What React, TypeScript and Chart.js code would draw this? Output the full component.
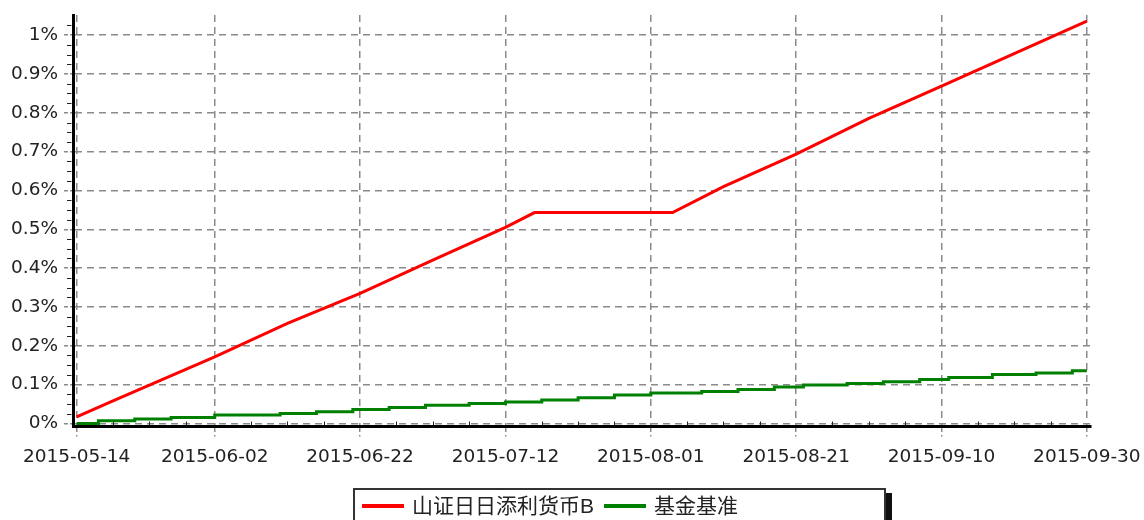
import { useEffect, useRef } from 'react';
import { Chart, registerables } from 'chart.js';

Chart.register(...registerables);

const startDate = '2015-05-14';
const xTickLabels = ['2015-05-14', '2015-06-02', '2015-06-22', '2015-07-12', '2015-08-01', '2015-08-21', '2015-09-10', '2015-09-30'];
const yTickValues = [0, 0.1, 0.2, 0.3, 0.4, 0.5, 0.6, 0.7, 0.8, 0.9, 1];
const yTickLabels = ['0%', '0.1%', '0.2%', '0.3%', '0.4%', '0.5%', '0.6%', '0.7%', '0.8%', '0.9%', '1%'];

const seriesNames = ['山证日日添利货币B', '基金基准'];
const seriesColors = ['#ff0000', '#008000'];

const fundDates = ['2015-05-14', '2015-05-19', '2015-06-02', '2015-06-12', '2015-06-22', '2015-07-02', '2015-07-12', '2015-07-16', '2015-08-04', '2015-08-11', '2015-08-21', '2015-08-31', '2015-09-10', '2015-09-30'];
const fundValues = [0.017, 0.058, 0.1715, 0.2575, 0.335, 0.4205, 0.505, 0.543, 0.543, 0.61, 0.6935, 0.7855, 0.8687, 1.036];

const benchDates = ['2015-05-14', '2015-05-17', '2015-05-22', '2015-05-27', '2015-06-02', '2015-06-11', '2015-06-16', '2015-06-21', '2015-06-26', '2015-07-01', '2015-07-07', '2015-07-12', '2015-07-17', '2015-07-22', '2015-07-27', '2015-08-01', '2015-08-08', '2015-08-13', '2015-08-18', '2015-08-22', '2015-08-28', '2015-09-02', '2015-09-07', '2015-09-11', '2015-09-17', '2015-09-23', '2015-09-28', '2015-09-30'];
const benchValues = [0, 0.0067, 0.011, 0.0155, 0.0214, 0.0258, 0.03, 0.036, 0.041, 0.047, 0.0515, 0.055, 0.06, 0.066, 0.073, 0.078, 0.0824, 0.0876, 0.0935, 0.0986, 0.103, 0.107, 0.1133, 0.1185, 0.126, 0.13, 0.1355, 0.1355];

const dayIndex = (s: string) => Math.round((Date.parse(s) - Date.parse(startDate)) / 86400000);
const xTickDays = xTickLabels.map(dayIndex);
const xMinorDays: number[] = [];
xTickDays.slice(0, -1).forEach((d) => [5, 10, 15].forEach((o) => xMinorDays.push(d + o)));
const yMinorValues: number[] = [];
yTickValues.forEach((v) => [0.025, 0.05, 0.075].forEach((o) => { if (v + o < 1.05) yMinorValues.push(+(v + o).toFixed(3)); }));

const GRID = '#8a8a8a';
const TICK_FONT = { family: '"DejaVu Sans", Verdana, sans-serif', size: 18.5 };

const minorTicksPlugin = {
  id: 'minorTicks',
  afterDraw(chart: any) {
    const { ctx, chartArea, scales } = chart;
    ctx.save();
    ctx.strokeStyle = '#222';
    ctx.lineWidth = 1;
    ctx.beginPath();
    yMinorValues.forEach((v) => {
      const py = Math.round(scales.y.getPixelForValue(v)) + 0.5;
      ctx.moveTo(chartArea.left - 6, py);
      ctx.lineTo(chartArea.left - 1.5, py);
    });
    xMinorDays.forEach((d) => {
      const px = Math.round(scales.x.getPixelForValue(d)) + 0.5;
      ctx.moveTo(px, chartArea.bottom - 1.5);
      ctx.lineTo(px, chartArea.bottom - 5);
    });
    ctx.stroke();
    ctx.restore();
  },
};

export default function App() {
  const ref = useRef<HTMLCanvasElement>(null);
  useEffect(() => {
    const canvas = ref.current!;
    const chart = new Chart(canvas, {
      type: 'line',
      data: {
        datasets: [
          {
            label: seriesNames[0],
            data: fundDates.map((d, i) => ({ x: dayIndex(d), y: fundValues[i] })),
            borderColor: seriesColors[0],
            backgroundColor: seriesColors[0],
            borderWidth: 3,
            pointRadius: 0,
            tension: 0,
            fill: false,
          },
          {
            label: seriesNames[1],
            data: benchDates.map((d, i) => ({ x: dayIndex(d), y: benchValues[i] })),
            borderColor: seriesColors[1],
            backgroundColor: seriesColors[1],
            borderWidth: 3,
            pointRadius: 0,
            stepped: 'before',
            fill: false,
          },
        ],
      },
      options: {
        responsive: false,
        animation: false,
        devicePixelRatio: 1,
        layout: { padding: { top: 15, right: 53.5, bottom: 0, left: 0 } },
        plugins: { legend: { display: false }, tooltip: { enabled: false } },
        scales: {
          x: {
            type: 'linear',
            min: xTickDays[0] - 0.5,
            max: xTickDays[xTickDays.length - 1] + 0.5,
            afterBuildTicks: (s: any) => { s.ticks = xTickDays.map((v) => ({ value: v })); },
            afterFit: (s: any) => { s.height = 93.5; s.paddingLeft = 0; s.paddingRight = 0; },
            grid: { color: GRID, lineWidth: 1.5, tickLength: 10, tickColor: GRID, tickBorderDash: [4, 3] },
            border: { display: true, color: '#000', width: 3, dash: [7, 5] },
            ticks: {
              autoSkip: false,
              maxRotation: 0,
              padding: 10,
              color: '#222',
              font: TICK_FONT,
              callback: (_v: any, i: number) => xTickLabels[i],
            },
          },
          y: {
            type: 'linear',
            min: -0.008,
            max: 1.052,
            afterBuildTicks: (s: any) => { s.ticks = yTickValues.map((v) => ({ value: v })); },
            afterFit: (s: any) => { s.width = 73; s.paddingTop = 0; s.paddingBottom = 0; },
            grid: { color: GRID, lineWidth: 1.5, tickLength: 9, tickColor: GRID, tickBorderDash: [4, 2] },
            border: { display: true, color: '#000', width: 3, dash: [7, 5] },
            ticks: {
              padding: 6,
              color: '#222',
              font: TICK_FONT,
              callback: (_v: any, i: number) => yTickLabels[i],
            },
          },
        },
      },
      plugins: [minorTicksPlugin],
    } as any);
    return () => chart.destroy();
  }, []);

  const legendFont = '"Liberation Sans", "Noto Sans CJK SC", sans-serif';
  return (
    <div style={{ position: 'absolute', left: 0, top: 0, width: 1144, height: 520, overflow: 'hidden', background: '#fff' }}>
      <canvas ref={ref} width={1144} height={520} style={{ display: 'block', width: 1144, height: 520 }} />
      <div
        style={{
          position: 'absolute',
          left: 353,
          top: 488,
          width: 533,
          height: 50,
          border: '2px solid #333',
          boxShadow: '6px 5px 0 #111',
          background: '#fff',
          boxSizing: 'border-box',
          display: 'flex',
          alignItems: 'flex-start',
          paddingLeft: 7,
          paddingTop: 0,
          fontFamily: legendFont,
          fontSize: 21,
          color: '#222',
          lineHeight: '32px',
        }}
      >
        {seriesNames.map((name, i) => (
          <div key={name} style={{ display: 'flex', alignItems: 'center', height: 32, marginRight: 10 }}>
            <span style={{ display: 'inline-block', width: 42, height: 4, background: seriesColors[i], marginRight: 8 }} />
            <span style={{ whiteSpace: 'nowrap' }}>{name}</span>
          </div>
        ))}
      </div>
    </div>
  );
}
